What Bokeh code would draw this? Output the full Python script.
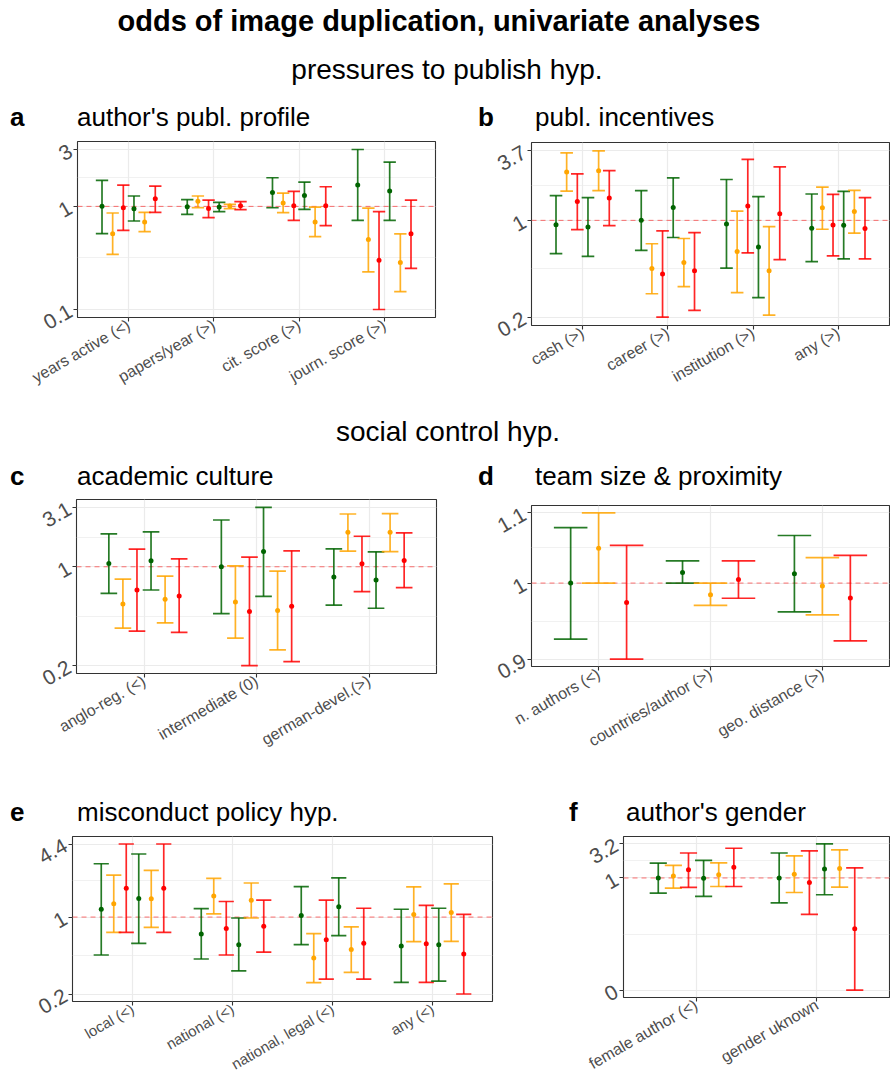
import math
from bokeh.plotting import figure
from bokeh.models import Range1d, FixedTicker, Span, Div
from bokeh.layouts import column, row
from bokeh.embed import file_html
from bokeh.resources import INLINE

# ---------------- data (odds ratios) ----------------
# series order in 6-series panels: green, orange, red, green, orange, red

A_CATS = ["years active (<)", "papers/year (>)", "cit. score (>)", "journ. score (>)"]
A_EST = [[1.0, 0.99, 1.366, 1.61],
         [0.544, 1.118, 1.077, 0.476],
         [0.97, 0.956, 1.015, 0.30],
         [0.95, 0.985, 1.278, 1.407],
         [0.705, 1.007, 0.705, 0.285],
         [1.186, 1.015, 1.015, 0.544]]
A_LO = [[0.544, 0.837, 0.97, 0.732],
        [0.343, 0.97, 0.868, 0.232],
        [0.586, 0.777, 0.732, 0.10],
        [0.721, 0.888, 0.935, 0.732],
        [0.569, 0.95, 0.509, 0.149],
        [0.875, 0.928, 0.65, 0.251]]
A_HI = [[1.786, 1.16, 1.894, 3.56],
        [0.862, 1.26, 1.346, 0.963],
        [1.61, 1.151, 1.397, 0.888],
        [1.26, 1.093, 1.72, 2.686],
        [0.875, 1.045, 0.985, 0.54],
        [1.573, 1.11, 1.55, 1.151]]
A_YLABELS = ["0.1", "1", "3"]

B_CATS = ["cash (>)", "career (>)", "institution (>)", "any (>)"]
B_EST = [[0.931, 1.0, 0.941, 0.877],
         [2.25, 0.447, 0.593, 1.233],
         [1.369, 0.407, 1.274, 0.926],
         [0.896, 1.24, 0.64, 0.921],
         [2.297, 0.494, 0.43, 1.161],
         [1.455, 0.43, 1.116, 0.871]]
B_LO = [[0.573, 0.606, 0.45, 0.502],
        [1.633, 0.293, 0.299, 0.862],
        [0.857, 0.198, 0.58, 0.552],
        [0.548, 0.751, 0.275, 0.525],
        [1.642, 0.33, 0.205, 0.807],
        [0.916, 0.222, 0.519, 0.525]]
B_HI = [[1.51, 1.642, 1.98, 1.554],
        [3.09, 0.676, 1.167, 1.745],
        [2.175, 0.838, 2.77, 1.545],
        [1.462, 2.035, 1.487, 1.624],
        [3.2, 0.738, 0.901, 1.65],
        [2.297, 0.815, 2.443, 1.462]]
B_YLABELS = ["0.2", "1", "3.7"]

C_CATS = ["anglo-reg. (<)", "intermediate (0)", "german-devel.(>)"]
C_EST = [[1.055, 1.0, 0.846],
         [0.546, 0.564, 1.754],
         [0.685, 0.482, 1.05],
         [1.102, 1.282, 0.806],
         [0.589, 0.49, 1.754],
         [0.622, 0.526, 1.108]]
C_LO = [[0.649, 0.467, 0.535],
        [0.368, 0.313, 1.289],
        [0.351, 0.2, 0.667],
        [0.685, 0.618, 0.509],
        [0.401, 0.258, 1.282],
        [0.343, 0.213, 0.711]]
C_HI = [[1.708, 2.143, 1.339],
        [0.819, 1.016, 2.362],
        [1.332, 1.17, 1.644],
        [1.763, 2.63, 1.276],
        [0.86, 0.932, 2.375],
        [1.138, 1.297, 1.735]]
C_YLABELS = ["0.2", "1", "3.1"]

# panel d: three series (green, orange, red)
D_CATS = ["n. authors (<)", "countries/author (>)", "geo. distance (>)"]
D_EST = [[1.0, 1.0146, 1.0128],
         [1.049, 0.9842, 0.9959],
         [0.9737, 1.005, 0.9798]]
D_LO = [[0.926, 1.0, 0.9614],
        [1.0, 0.970, 0.9575],
        [0.901, 0.9794, 0.924]]
D_HI = [[1.079, 1.031, 1.0673],
        [1.101, 1.0, 1.0355],
        [1.053, 1.031, 1.0388]]
D_YLABELS = ["0.9", "1", "1.1"]

E_CATS = ["local (<)", "national (<)", "national, legal (<)", "any (<)"]
E_EST = [[1.177, 0.703, 1.035, 0.546],
         [1.321, 1.555, 0.425, 1.056],
         [1.831, 0.788, 0.622, 0.573],
         [1.473, 0.561, 1.243, 0.561],
         [1.463, 1.423, 0.507, 1.1],
         [1.831, 0.827, 0.577, 0.461]]
E_LO = [[0.452, 0.416, 0.561, 0.255],
        [0.727, 1.07, 0.254, 0.597],
        [0.727, 0.452, 0.273, 0.255],
        [0.577, 0.324, 0.679, 0.262],
        [0.805, 0.98, 0.315, 0.601],
        [0.727, 0.48, 0.273, 0.2]]
E_HI = [[3.05, 1.193, 1.893, 1.177],
        [2.4, 2.244, 0.707, 1.881],
        [4.61, 1.385, 1.423, 1.277],
        [3.74, 0.98, 2.274, 1.202],
        [2.66, 2.04, 0.816, 2.0],
        [4.61, 1.423, 1.202, 1.056]]
E_YLABELS = ["0.2", "1", "4.4"]

F_CATS = ["female author (<)", "gender uknown"]
F_EST = [[1.0, 1.0],
         [1.067, 1.138],
         [1.323, 0.86],
         [0.99, 1.352],
         [1.114, 1.38],
         [1.442, 0.177]]
F_LO = [[0.597, 0.428],
        [0.709, 0.61],
        [0.724, 0.29],
        [0.536, 0.565],
        [0.748, 0.732],
        [0.748, 0.0219]]
F_HI = [[1.66, 2.34],
        [1.538, 2.124],
        [2.34, 2.52],
        [1.826, 3.2],
        [1.676, 2.606],
        [2.75, 1.411]]
F_YLABELS = ["0", "1", "3.2"]

# ---------------- styling ----------------
GREEN, ORANGE, RED = "#006400", "#FFA500", "#FF0000"
SIX_COLORS = [GREEN, ORANGE, RED, GREEN, ORANGE, RED]
THREE_COLORS = [GREEN, ORANGE, RED]
SIX_OFFSETS = [-0.3125, -0.1875, -0.0625, 0.0625, 0.1875, 0.3125]
THREE_OFFSETS = [-0.25, 0.0, 0.25]
FONT = "Liberation Sans"
GRID = "#EBEBEB"
PAGE_W = 890


def make_panel(cats, est, lo, hi, ylabels, colors, offsets, cap, width, height, mb, xfont="16px"):
    n = len(cats)
    vmin = min(v for s in lo for v in s)
    vmax = max(v for s in hi for v in s)
    l0, l1 = math.log10(vmin), math.log10(vmax)
    pad = 0.05 * (l1 - l0)
    p = figure(width=width, height=height,
               x_range=Range1d(0.4, n + 0.6),
               y_range=Range1d(10 ** (l0 - pad), 10 ** (l1 + pad)),
               y_axis_type="log", output_backend="svg", toolbar_location=None,
               min_border_left=mb[0], min_border_right=mb[1],
               min_border_top=mb[2], min_border_bottom=mb[3])
    p.frame_align = False
    p.background_fill_color = "white"
    p.border_fill_color = "white"
    p.border_fill_alpha = 0.0
    p.outline_line_color = "#333333"
    p.outline_line_width = 1.1

    p.add_layout(Span(location=1, dimension="width", line_color=RED, line_alpha=0.55,
                      line_dash="5 4", line_width=1, level="underlay"))

    for s in range(len(est)):
        xs = [i + 1 + offsets[s] for i in range(n)]
        c = colors[s]
        p.segment(xs, lo[s], xs, hi[s], line_color=c, line_width=1.7, line_alpha=0.85)
        p.segment([x - cap / 2 for x in xs], lo[s], [x + cap / 2 for x in xs], lo[s],
                  line_color=c, line_width=1.7, line_alpha=0.85)
        p.segment([x - cap / 2 for x in xs], hi[s], [x + cap / 2 for x in xs], hi[s],
                  line_color=c, line_width=1.7, line_alpha=0.85)
        p.scatter(xs, est[s], size=5, color=c, line_width=0)

    yt = [vmin, 1.0, vmax]
    p.yaxis.ticker = FixedTicker(ticks=yt, minor_ticks=[math.sqrt(vmin), math.sqrt(vmax)])
    p.ygrid.ticker = p.yaxis.ticker
    p.yaxis.major_label_overrides = {t: lab for t, lab in zip(yt, ylabels)}
    p.xaxis.ticker = FixedTicker(ticks=list(range(1, n + 1)))
    p.xgrid.ticker = p.xaxis.ticker
    p.xaxis.major_label_overrides = {i + 1: c for i, c in enumerate(cats)}

    for ax in (p.xaxis[0], p.yaxis[0]):
        ax.axis_line_color = None
        ax.major_tick_line_color = "#333333"
        ax.major_tick_line_width = 1.1
        ax.major_tick_out = 4
        ax.major_tick_in = 0
        ax.minor_tick_line_color = None
        ax.major_label_text_color = "#4D4D4D"
        ax.major_label_text_font = FONT
        ax.major_label_orientation = math.pi / 6
        ax.major_label_standoff = 3
    p.xaxis.major_label_text_font_size = xfont
    p.xaxis.major_label_standoff = 2
    p.yaxis.major_label_text_font_size = "21px"

    p.xgrid.grid_line_color = GRID
    p.xgrid.grid_line_width = 1.2
    p.ygrid.grid_line_color = GRID
    p.ygrid.grid_line_width = 1.2
    p.ygrid.minor_grid_line_color = GRID
    p.ygrid.minor_grid_line_width = 0.7
    return p


def txt(t, left, top, size, bold=False, center=False):
    weight = "bold" if bold else "normal"
    if center:
        pos = f"left:{left - 420}px;width:840px;text-align:center;"
    else:
        pos = f"left:{left}px;"
    return (f'<div style="position:absolute;{pos}top:{top}px;font-family:\'{FONT}\',Arial,sans-serif;'
            f'font-size:{size}px;line-height:{size}px;font-weight:{weight};color:#000;white-space:nowrap;">{t}</div>')


def header(items, height):
    html = (f'<div style="position:relative;width:{PAGE_W}px;height:{height}px;overflow:visible;">'
            + "".join(items) + "</div>")
    return Div(text=html, width=PAGE_W, height=height, margin=(0, 0, 0, 0),
               styles={"overflow": "visible"})


h1 = header([
    txt("odds of image duplication, univariate analyses", 439, 7, 29, bold=True, center=True),
    txt("pressures to publish hyp.", 447, 56, 28, center=True),
    txt("a", 10, 104, 26, bold=True),
    txt("author's publ. profile", 77, 104, 26),
    txt("b", 478, 104, 26, bold=True),
    txt("publ. incentives", 535, 104, 26),
], 132)

pa = make_panel(A_CATS, A_EST, A_LO, A_HI, A_YLABELS, SIX_COLORS, SIX_OFFSETS, 0.145,
                445, 276, (77, 10, 9, 91))
pb = make_panel(B_CATS, B_EST, B_LO, B_HI, B_YLABELS, SIX_COLORS, SIX_OFFSETS, 0.148,
                445, 276, (86, 1, 10, 83))

h2 = header([
    txt("social control hyp.", 448, 10, 28, center=True),
    txt("c", 10, 55, 26, bold=True),
    txt("academic culture", 77, 55, 26),
    txt("d", 478, 55, 26, bold=True),
    txt("team size &amp; proximity", 535, 55, 26),
], 84)

pc = make_panel(C_CATS, C_EST, C_LO, C_HI, C_YLABELS, SIX_COLORS, SIX_OFFSETS, 0.148,
                445, 291, (76, 9, 7, 110))
pd = make_panel(D_CATS, D_EST, D_LO, D_HI, D_YLABELS, THREE_COLORS, THREE_OFFSETS, 0.3,
                445, 291, (86, 1, 13, 117))

h3 = header([
    txt("e", 10, 16, 26, bold=True),
    txt("misconduct policy hyp.", 77, 16, 26),
    txt("f", 569, 16, 26, bold=True),
    txt("author's gender", 626, 16, 26),
], 41)

pe = make_panel(E_CATS, E_EST, E_LO, E_HI, E_YLABELS, SIX_COLORS, SIX_OFFSETS, 0.152,
                560, 258, (72, 68, 12, 78), xfont="15px")
pf = make_panel(F_CATS, F_EST, F_LO, F_HI, F_YLABELS, SIX_COLORS, SIX_OFFSETS, 0.142,
                330, 258, (63, 1, 12, 77))

layout = column(
    h1,
    row(pa, pb, spacing=0),
    h2,
    row(pc, pd, spacing=0),
    h3,
    row(pe, pf, spacing=0),
    spacing=0,
)

open("out.html", "w").write(file_html(layout, INLINE))
